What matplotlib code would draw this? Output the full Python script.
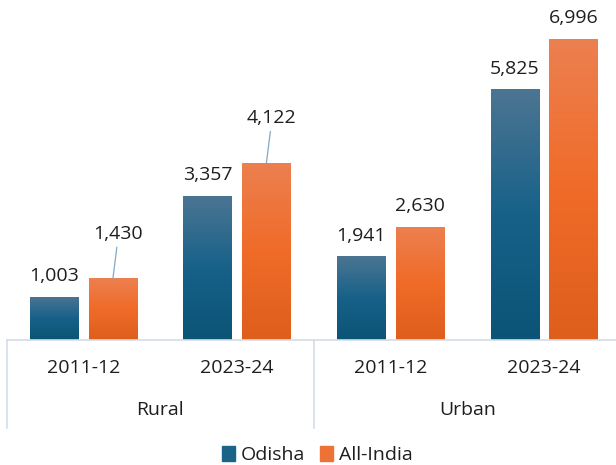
import numpy as np
import matplotlib
matplotlib.use('Agg')
import matplotlib.pyplot as plt
from matplotlib.colors import LinearSegmentedColormap
from matplotlib.patches import Patch

plt.rcParams['font.family'] = ['Open Sans', 'DejaVu Sans']

# data
groups = ['Rural', 'Urban']
years = ['2011-12', '2023-24', '2011-12', '2023-24']
odisha = [1003, 3357, 1941, 5825]
all_india = [1430, 4122, 2630, 6996]
leader = [True, True, False, False]   # All-India labels that sit on a leader line

blue_cmap = LinearSegmentedColormap.from_list('b', ['#0b5476', '#176189', '#4c7592'])
orange_cmap = LinearSegmentedColormap.from_list('o', ['#de5e1c', '#f06b28', '#ec8050'])

fig = plt.figure(figsize=(6.16, 4.65), dpi=100)
ax = fig.add_axes([7/616, 125/465, 609/616, 340/465])
ax.axis('off')

x = np.arange(len(years))
w = 0.313
off = 0.192


def gradient_bars(xs, vals, cmap):
    bars = ax.bar(xs, vals, w, color='none', edgecolor='none')
    grad = np.linspace(0, 1, 256).reshape(-1, 1)
    for b in bars:
        x0, y0 = b.get_x(), b.get_y()
        im = ax.imshow(grad, cmap=cmap, origin='lower', aspect='auto',
                       extent=[x0, x0 + b.get_width(), y0, y0 + b.get_height()],
                       zorder=2)
        im.set_clip_path(b)
    return bars


gradient_bars(x - off, odisha, blue_cmap)
gradient_bars(x + off, all_india, orange_cmap)
ax.set_xlim(-0.498, 3.469)
ax.set_ylim(0, 7903)

txt = '#1e1e1e'
fs = 14
for i in range(len(years)):
    ax.annotate(f'{odisha[i]:,}', (x[i] - off, odisha[i]), xytext=(0, 15),
                textcoords='offset points', ha='center', va='center',
                fontsize=fs, color=txt)
    if leader[i]:
        ax.annotate(f'{all_india[i]:,}', (x[i] + off, all_india[i]), xytext=(4, 32),
                    textcoords='offset points', ha='center', va='center',
                    fontsize=fs, color=txt,
                    arrowprops=dict(arrowstyle='-', color='#7fa9c9', lw=0.9,
                                    shrinkA=1, shrinkB=0))
    else:
        ax.annotate(f'{all_india[i]:,}', (x[i] + off, all_india[i]), xytext=(0, 15),
                    textcoords='offset points', ha='center', va='center',
                    fontsize=fs, color=txt)

# category axis
line_c = '#d3dde7'
fig.add_artist(plt.Line2D([7/616, 1], [125/465, 125/465], color=line_c, lw=1.2))
for px in [7, 314]:
    fig.add_artist(plt.Line2D([px/616, px/616], [37/465, 125/465], color=line_c, lw=1.2))

for i, yr in enumerate(years):
    ax.annotate(yr, (x[i], 0), xytext=(0, -20.5), textcoords='offset points',
                ha='center', va='center', fontsize=fs, color=txt, annotation_clip=False)
for j, g in enumerate(groups):
    ax.annotate(g, (x[2*j] + 0.5, 0), xytext=(0, -50.5), textcoords='offset points',
                ha='center', va='center', fontsize=fs, color=txt, annotation_clip=False)

handles = [Patch(color='#1a6488', label='Odisha'), Patch(color='#ee7235', label='All-India')]
fig.legend(handles=handles, loc='center', bbox_to_anchor=(0.515, 10/465), ncol=2,
           frameon=False, fontsize=fs, handlelength=0.65, handleheight=0.85,
           handletextpad=0.3, columnspacing=0.8, labelcolor=txt)

fig.savefig('out.png', dpi=100)
